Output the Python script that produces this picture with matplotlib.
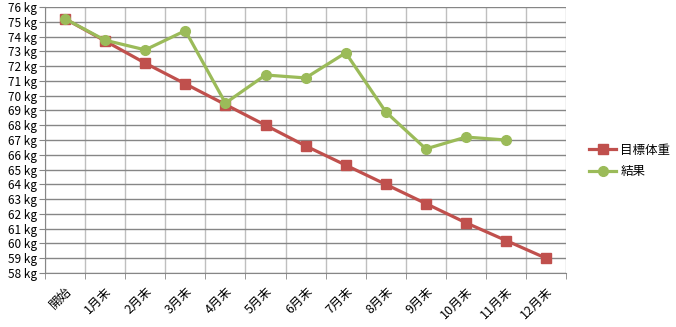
import numpy as np
import matplotlib.pyplot as plt

plt.rcParams['font.family'] = ['Noto Sans CJK JP', 'DejaVu Sans']

# data
months = ['開始', '1月末', '2月末', '3月末', '4月末', '5月末', '6月末',
          '7月末', '8月末', '9月末', '10月末', '11月末', '12月末']
target = [75.2, 73.7, 72.2, 70.8, 69.4, 68.0, 66.6, 65.3, 64.0, 62.7, 61.4, 60.2, 59.0]
result = [75.2, 73.75, 73.1, 74.4, 69.5, 71.4, 71.2, 72.9, 68.9, 66.4, 67.2, 67.0]
yticks = list(range(58, 77))

fig = plt.figure(figsize=(6.76, 3.27), dpi=100)
ax = fig.add_axes([0.0666, 0.165, 0.771, 0.8136])

x = np.arange(len(months))
ax.plot(x, target, color='#C0504D', lw=2.3, marker='s', ms=7, label='目標体重', zorder=3)
ax.plot(x[:len(result)], result, color='#9BBB59', lw=2.3, marker='o', ms=7, label='結果', zorder=4)

ax.set_xlim(-0.5, len(months) - 0.5)
ax.set_ylim(58, 76)
ax.set_yticks(yticks)
ax.set_yticklabels([f'{v} kg' for v in yticks], fontsize=8.5)
ax.set_xticks(x)
ax.set_xticklabels(months, rotation=45, ha='right', va='top', rotation_mode='anchor', fontsize=9)
ax.set_xticks(np.arange(-0.5, len(months), 1), minor=True)
ax.tick_params(axis='x', which='major', length=0, pad=8)
ax.tick_params(axis='x', which='minor', length=4, color='#868686')
ax.tick_params(axis='y', length=4, color='#868686', pad=2)

ax.grid(axis='y', color='#868686', lw=1)
ax.grid(axis='x', which='minor', color='#BFBFBF', lw=1)
for s in ['top', 'right']:
    ax.spines[s].set_visible(False)
for s in ['left', 'bottom']:
    ax.spines[s].set_color('#868686')
ax.set_axisbelow(True)

fig.legend(loc='center left', bbox_to_anchor=(0.862, 0.508), frameon=False,
           fontsize=9, handlelength=2.2, handletextpad=0.3, borderpad=0,
           labelspacing=0.7)

fig.savefig('out.png', dpi=100)
